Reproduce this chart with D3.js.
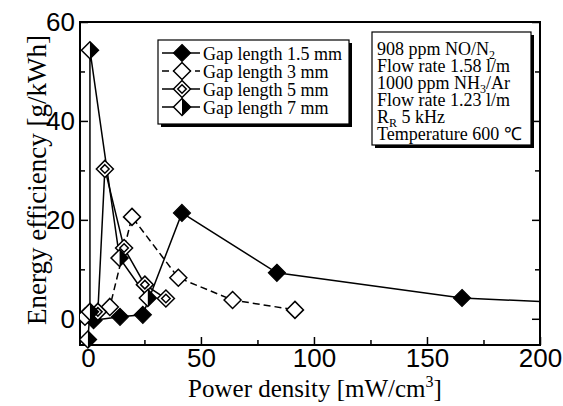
<!DOCTYPE html>
<html>
<head>
<meta charset="utf-8">
<script src="https://cdn.jsdelivr.net/npm/d3@7"></script>
<style>
  body { margin: 0; background: #fff; }
  svg { font-family: "Liberation Serif", "Times New Roman", serif; }
  .axis text { font-size: 26px; fill: #000; }
  .axis line { stroke: #000; stroke-width: 1.5; }
  .axis-label { font-size: 26px; fill: #000; }
  .box-text { font-size: 18px; fill: #000; }
</style>
</head>
<body>
<svg id="chart"></svg>
<script>
// ---- data ----
const seriesNames = ['Gap length 1.5 mm', 'Gap length 3 mm', 'Gap length 5 mm', 'Gap length 7 mm'];

// power density [mW/cm3] and energy efficiency [g/kWh]
const powerGap15 = [2.5, 14.2, 24.3, 41.6, 83.6, 165.5, 215];
const effGap15   = [-0.3, 0.4, 0.8, 21.4, 9.3, 4.2, 3.2];
const powerGap3  = [-1.3, 9.7, 19.5, 40, 64, 91.6];
const effGap3    = [0.4, 2.4, 20.6, 8.3, 3.8, 1.8];
const powerGap5  = [4.4, 7.5, 16, 25.2, 34.5];
const effGap5    = [1.4, 30.3, 14.3, 6.9, 4.1];
const powerGap7  = [0, 0.9, 0.9, 14, 26.5];
const effGap7    = [-4.2, 1.4, 54.3, 12.3, 4.2];

const xTicks = [0, 50, 100, 150, 200];
const xMinorTicks = [25, 75, 125, 175];
const yTicks = [0, 20, 40, 60];
const yMinorTicks = [10, 30, 50];

const infoLines = [
  [{t: '908 ppm NO/N'}, {t: '2', sub: true}],
  [{t: 'Flow rate 1.58 l/m'}],
  [{t: '1000 ppm NH'}, {t: '3', sub: true}, {t: '/Ar'}],
  [{t: 'Flow rate 1.23 l/m'}],
  [{t: 'R'}, {t: 'R', sub: true}, {t: ' 5 kHz'}],
  [{t: 'Temperature 600 \u2103'}]
];

class EfficiencyChart {

  constructor(_config, _data) {
    this.config = {
      parentElement: _config.parentElement,
      containerWidth: 563,
      containerHeight: 406,
      plot: {left: 80, right: 540, top: 22, bottom: 345},
      markerSize: 8.5,
      legend: {x: 158, y: 40, width: 191, height: 84, rowHeight: 18},
      info: {x: 372, y: 32, width: 159, height: 113, rowHeight: 17},
      // marker style + dash for each gap length
      styles: [
        {marker: 'filled', dash: null},
        {marker: 'open', dash: '7,4'},
        {marker: 'double', dash: null},
        {marker: 'half', dash: null}
      ]
    };
    this.data = _data;
    this.initVis();
  }

  initVis() {
    let vis = this;
    const p = vis.config.plot;

    vis.svg = d3.select(vis.config.parentElement)
        .attr('width', vis.config.containerWidth)
        .attr('height', vis.config.containerHeight);

    vis.xScale = d3.scaleLinear()
        .domain([-3.5, 200])
        .range([p.left, p.right]);

    vis.yScale = d3.scaleLinear()
        .domain([-5.3, 60])
        .range([p.bottom, p.top]);

    // clip so the 1.5 mm line runs off the right edge
    vis.svg.append('clipPath')
        .attr('id', 'plot-clip')
      .append('rect')
        .attr('x', p.left)
        .attr('y', p.top)
        .attr('width', p.right - p.left)
        .attr('height', p.bottom - p.top + 12);

    // axes, ticks pointing inward
    const xAxis = d3.axisBottom(vis.xScale).tickValues(xTicks)
        .tickSizeInner(-8).tickSizeOuter(0).tickPadding(4);
    const xMinor = d3.axisBottom(vis.xScale).tickValues(xMinorTicks)
        .tickSizeInner(-5).tickSizeOuter(0).tickFormat('');
    const yAxis = d3.axisLeft(vis.yScale).tickValues(yTicks)
        .tickSizeInner(-8).tickSizeOuter(0).tickPadding(5);
    const yMinor = d3.axisLeft(vis.yScale).tickValues(yMinorTicks)
        .tickSizeInner(-5).tickSizeOuter(0).tickFormat('');
    const yRight = d3.axisRight(vis.yScale).tickValues(yTicks)
        .tickSizeInner(-8).tickSizeOuter(0).tickFormat('');
    const yRightMinor = d3.axisRight(vis.yScale).tickValues(yMinorTicks)
        .tickSizeInner(-5).tickSizeOuter(0).tickFormat('');

    const addAxis = (axis, tx, ty) => {
      const g = vis.svg.append('g')
          .attr('class', 'axis')
          .attr('transform', `translate(${tx},${ty})`)
          .call(axis);
      g.select('.domain').remove();
      return g;
    };
    addAxis(xAxis, 0, p.bottom);
    addAxis(xMinor, 0, p.bottom);
    addAxis(yAxis, p.left, 0);
    addAxis(yMinor, p.left, 0);
    addAxis(yRight, p.right, 0);
    addAxis(yRightMinor, p.right, 0);

    // frame
    vis.svg.append('rect')
        .attr('x', p.left)
        .attr('y', p.top)
        .attr('width', p.right - p.left)
        .attr('height', p.bottom - p.top)
        .attr('fill', 'none')
        .attr('stroke', '#000')
        .attr('stroke-width', 2);

    vis.chart = vis.svg.append('g')
        .attr('clip-path', 'url(#plot-clip)');

    // axis titles
    vis.svg.append('text')
        .attr('class', 'axis-label')
        .attr('transform', 'translate(46,180) rotate(-90)')
        .attr('text-anchor', 'middle')
        .style('font-size', '27px')
        .text('Energy efficiency [g/kWh]');

    const xt = vis.svg.append('text')
        .attr('class', 'axis-label')
        .attr('x', 315)
        .attr('y', 397)
        .attr('text-anchor', 'middle')
        .style('font-size', '25px');
    xt.append('tspan').text('Power density [mW/cm');
    xt.append('tspan').attr('dy', -10).style('font-size', '16px').text('3');
    xt.append('tspan').attr('dy', 10).text(']');

    vis.renderVis();
    vis.renderLegend();
    vis.renderInfo();
  }

  diamond(r) {
    return `M0,${-r}L${r},0L0,${r}L${-r},0Z`;
  }

  drawMarker(g, type) {
    let vis = this;
    const r = vis.config.markerSize;
    if (type === 'filled') {
      g.append('path').attr('d', vis.diamond(r)).attr('fill', '#000').attr('stroke', '#000').attr('stroke-width', 1.2);
    } else if (type === 'open') {
      g.append('path').attr('d', vis.diamond(r)).attr('fill', '#fff').attr('stroke', '#000').attr('stroke-width', 1.5);
    } else if (type === 'double') {
      g.append('path').attr('d', vis.diamond(r)).attr('fill', '#fff').attr('stroke', '#000').attr('stroke-width', 1.5);
      g.append('path').attr('d', vis.diamond(r * 0.5)).attr('fill', 'none').attr('stroke', '#000').attr('stroke-width', 1.5);
    } else if (type === 'half') {
      g.append('path').attr('d', vis.diamond(r)).attr('fill', '#fff').attr('stroke', '#000').attr('stroke-width', 1.5);
      g.append('path').attr('d', `M0,${-r}L${r},0L0,${r}Z`).attr('fill', '#000');
    }
  }

  renderVis() {
    let vis = this;

    const line = d3.line()
        .x(d => vis.xScale(d.x))
        .y(d => vis.yScale(d.y));

    vis.data.forEach((s, i) => {
      const st = vis.config.styles[i];
      vis.chart.append('path')
          .datum(s.points)
          .attr('d', line)
          .attr('fill', 'none')
          .attr('stroke', '#000')
          .attr('stroke-width', 1.5)
          .attr('stroke-dasharray', st.dash);
    });

    vis.data.forEach((s, i) => {
      const st = vis.config.styles[i];
      vis.chart.selectAll(`.marker-${i}`)
          .data(s.points)
        .join('g')
          .attr('class', `marker-${i}`)
          .attr('transform', d => `translate(${vis.xScale(d.x)},${vis.yScale(d.y)})`)
          .each(function() { vis.drawMarker(d3.select(this), st.marker); });
    });
  }

  renderLegend() {
    let vis = this;
    const L = vis.config.legend;

    vis.svg.append('rect')
        .attr('x', L.x + 3).attr('y', L.y + 3)
        .attr('width', L.width).attr('height', L.height)
        .attr('fill', '#000');
    vis.svg.append('rect')
        .attr('x', L.x).attr('y', L.y)
        .attr('width', L.width).attr('height', L.height)
        .attr('fill', '#fff').attr('stroke', '#000').attr('stroke-width', 1.2);

    const rows = vis.svg.selectAll('.legend-row')
        .data(vis.data)
      .join('g')
        .attr('class', 'legend-row')
        .attr('transform', (d, i) => `translate(${L.x}, ${L.y + 13 + i * L.rowHeight})`);

    rows.append('line')
        .attr('x1', 4).attr('x2', 42)
        .attr('stroke', '#000').attr('stroke-width', 1.5)
        .attr('stroke-dasharray', (d, i) => vis.config.styles[i].dash);

    rows.append('g')
        .attr('transform', 'translate(24,0)')
        .each(function(d, i) { vis.drawMarker(d3.select(this), vis.config.styles[i].marker); });

    rows.append('text')
        .attr('class', 'box-text')
        .attr('x', 45)
        .attr('y', 7)
        .style('font-size', '18px')
        .text(d => d.name);
  }

  renderInfo() {
    let vis = this;
    const B = vis.config.info;

    vis.svg.append('rect')
        .attr('x', B.x + 3).attr('y', B.y + 3)
        .attr('width', B.width).attr('height', B.height)
        .attr('fill', '#000');
    vis.svg.append('rect')
        .attr('x', B.x).attr('y', B.y)
        .attr('width', B.width).attr('height', B.height)
        .attr('fill', '#fff').attr('stroke', '#000').attr('stroke-width', 1.2);

    infoLines.forEach((segs, i) => {
      const txt = vis.svg.append('text')
          .attr('class', 'box-text')
          .attr('x', B.x + 5)
          .attr('y', B.y + 23 + i * B.rowHeight);
      let shifted = false;
      segs.forEach(s => {
        const ts = txt.append('tspan').text(s.t);
        if (s.sub && !shifted) { ts.attr('dy', 4).style('font-size', '12px'); shifted = true; }
        else if (!s.sub && shifted) { ts.attr('dy', -4); shifted = false; }
      });
    });
  }
}

const chartData = [
  {name: seriesNames[0], points: powerGap15.map((x, i) => ({x: x, y: effGap15[i]}))},
  {name: seriesNames[1], points: powerGap3.map((x, i) => ({x: x, y: effGap3[i]}))},
  {name: seriesNames[2], points: powerGap5.map((x, i) => ({x: x, y: effGap5[i]}))},
  {name: seriesNames[3], points: powerGap7.map((x, i) => ({x: x, y: effGap7[i]}))}
];

const chart = new EfficiencyChart({parentElement: '#chart'}, chartData);
</script>
</body>
</html>
